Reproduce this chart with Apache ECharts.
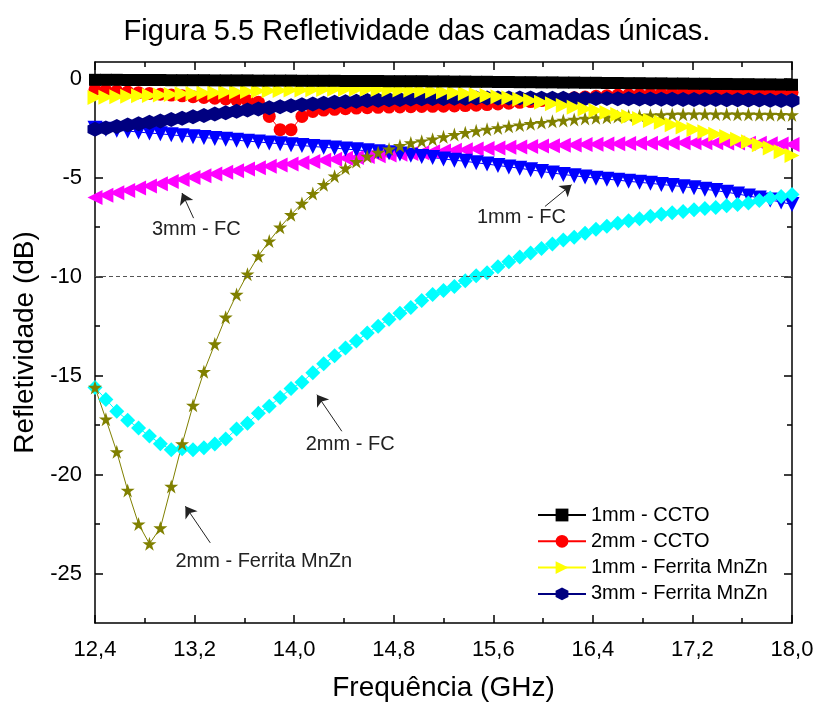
<!DOCTYPE html>
<html>
<head>
<meta charset="utf-8">
<title>Refletividade das camadas únicas</title>
<script src="https://cdn.jsdelivr.net/npm/echarts@6.0.0/dist/echarts.min.js"></script>
<style>
  html, body { margin: 0; padding: 0; background: #fff; }
  #chart { width: 818px; height: 704px; }
</style>
</head>
<body>
<div id="chart"></div>
<script>
// Frequency grid (GHz)
const freq = [12.4, 12.4875, 12.575, 12.6625, 12.75, 12.8375, 12.925, 13.0125, 13.1, 13.1875,
  13.275, 13.3625, 13.45, 13.5375, 13.625, 13.7125, 13.8, 13.8875, 13.975, 14.0625,
  14.15, 14.2375, 14.325, 14.4125, 14.5, 14.5875, 14.675, 14.7625, 14.85, 14.9375,
  15.025, 15.1125, 15.2, 15.2875, 15.375, 15.4625, 15.55, 15.6375, 15.725, 15.8125,
  15.9, 15.9875, 16.075, 16.1625, 16.25, 16.3375, 16.425, 16.5125, 16.6, 16.6875,
  16.775, 16.8625, 16.95, 17.0375, 17.125, 17.2125, 17.3, 17.3875, 17.475, 17.5625,
  17.65, 17.7375, 17.825, 17.9125, 18.0];

// Reflectivity (dB) for each layer
const ccto1mm = [-0.05, -0.05, -0.05, -0.06, -0.06, -0.06, -0.06, -0.07, -0.07, -0.07,
  -0.07, -0.08, -0.08, -0.08, -0.08, -0.09, -0.09, -0.09, -0.09, -0.10,
  -0.10, -0.10, -0.10, -0.11, -0.11, -0.11, -0.11, -0.12, -0.12, -0.12,
  -0.12, -0.13, -0.13, -0.14, -0.14, -0.15, -0.15, -0.16, -0.16, -0.17,
  -0.17, -0.18, -0.18, -0.19, -0.19, -0.20, -0.20, -0.21, -0.21, -0.22,
  -0.22, -0.23, -0.23, -0.24, -0.24, -0.25, -0.25, -0.26, -0.26, -0.27,
  -0.27, -0.28, -0.28, -0.29, -0.30];

const ccto2mm = [-0.55, -0.58, -0.62, -0.66, -0.70, -0.74, -0.78, -0.82, -0.86, -0.90,
  -0.94, -0.98, -1.02, -1.06, -1.10, -1.18, -1.90, -2.57, -2.57, -1.90,
  -1.65, -1.58, -1.54, -1.51, -1.48, -1.46, -1.44, -1.43, -1.42, -1.41,
  -1.40, -1.39, -1.38, -1.37, -1.35, -1.33, -1.30, -1.27, -1.23, -1.19,
  -1.15, -1.10, -1.05, -1.00, -0.96, -0.92, -0.88, -0.85, -0.82, -0.80,
  -0.78, -0.77, -0.76, -0.75, -0.74, -0.73, -0.72, -0.72, -0.71, -0.71,
  -0.70, -0.70, -0.70, -0.69, -0.69];

const ferrita1mm = [-0.95, -0.93, -0.90, -0.88, -0.86, -0.84, -0.82, -0.79, -0.76, -0.74,
  -0.72, -0.70, -0.68, -0.66, -0.64, -0.62, -0.60, -0.59, -0.57, -0.56,
  -0.55, -0.54, -0.53, -0.53, -0.53, -0.53, -0.54, -0.55, -0.56, -0.58,
  -0.60, -0.63, -0.66, -0.70, -0.74, -0.79, -0.84, -0.90, -0.96, -1.03,
  -1.10, -1.18, -1.26, -1.35, -1.44, -1.52, -1.60, -1.70, -1.80, -1.90,
  -2.00, -2.10, -2.20, -2.32, -2.44, -2.56, -2.68, -2.80, -2.92, -3.05,
  -3.18, -3.33, -3.50, -3.68, -3.88];

const ferrita3mm = [-2.55, -2.48, -2.41, -2.34, -2.27, -2.20, -2.13, -2.06, -1.99, -1.92,
  -1.85, -1.78, -1.71, -1.64, -1.58, -1.52, -1.46, -1.41, -1.36, -1.31,
  -1.27, -1.23, -1.19, -1.16, -1.13, -1.10, -1.08, -1.06, -1.04, -1.02,
  -1.01, -1.00, -0.99, -0.98, -0.98, -0.97, -0.97, -0.97, -0.97, -0.97,
  -0.97, -0.98, -0.98, -0.98, -0.99, -0.99, -1.00, -1.00, -1.01, -1.01,
  -1.02, -1.02, -1.03, -1.03, -1.04, -1.04, -1.05, -1.05, -1.06, -1.06,
  -1.07, -1.07, -1.08, -1.09, -1.10];

const fc1mm = [-2.50, -2.55, -2.60, -2.64, -2.69, -2.74, -2.78, -2.83, -2.88, -2.93,
  -2.97, -3.01, -3.06, -3.10, -3.15, -3.19, -3.24, -3.28, -3.33, -3.37,
  -3.42, -3.46, -3.50, -3.55, -3.59, -3.64, -3.69, -3.74, -3.80, -3.86,
  -3.92, -3.98, -4.05, -4.11, -4.17, -4.24, -4.31, -4.38, -4.45, -4.52,
  -4.60, -4.68, -4.76, -4.83, -4.90, -4.96, -5.02, -5.07, -5.12, -5.18,
  -5.23, -5.28, -5.34, -5.39, -5.45, -5.51, -5.58, -5.65, -5.73, -5.82,
  -5.92, -6.02, -6.12, -6.23, -6.35];

const fc3mm = [-6.00, -5.88, -5.76, -5.64, -5.52, -5.41, -5.30, -5.19, -5.09, -4.99,
  -4.90, -4.81, -4.72, -4.64, -4.56, -4.49, -4.42, -4.36, -4.30, -4.24,
  -4.18, -4.12, -4.07, -4.02, -3.97, -3.93, -3.89, -3.85, -3.81, -3.77,
  -3.73, -3.69, -3.65, -3.61, -3.58, -3.55, -3.52, -3.49, -3.46, -3.44,
  -3.42, -3.40, -3.38, -3.36, -3.34, -3.32, -3.31, -3.29, -3.28, -3.27,
  -3.26, -3.25, -3.24, -3.24, -3.23, -3.23, -3.23, -3.23, -3.24, -3.24,
  -3.25, -3.26, -3.28, -3.30, -3.32];

const ferrita2mm = [-15.6, -17.2, -18.85, -20.8, -22.5, -23.5, -22.7, -20.6, -18.45, -16.5,
  -14.8, -13.4, -12.05, -10.9, -9.87, -8.95, -8.2, -7.5, -6.87, -6.3,
  -5.8, -5.35, -4.92, -4.52, -4.18, -3.92, -3.72, -3.55, -3.38, -3.24,
  -3.15, -3.05, -2.93, -2.82, -2.72, -2.63, -2.55, -2.48, -2.40, -2.34,
  -2.27, -2.21, -2.15, -2.10, -2.05, -2.00, -1.97, -1.94, -1.91, -1.88,
  -1.86, -1.84, -1.82, -1.80, -1.79, -1.78, -1.78, -1.78, -1.78, -1.79,
  -1.79, -1.80, -1.80, -1.81, -1.82];

const fc2mm = [-15.6, -16.2, -16.8, -17.25, -17.65, -18.05, -18.44, -18.75, -18.7, -18.75,
  -18.65, -18.45, -18.2, -17.7, -17.4, -16.9, -16.55, -16.1, -15.65, -15.33,
  -14.85, -14.4, -14.0, -13.6, -13.25, -12.85, -12.5, -12.15, -11.85, -11.55,
  -11.2, -10.9, -10.7, -10.5, -10.2, -9.95, -9.8, -9.5, -9.25, -9.0,
  -8.8, -8.58, -8.35, -8.15, -8.0, -7.8, -7.6, -7.45, -7.3, -7.17,
  -7.07, -6.95, -6.85, -6.77, -6.7, -6.62, -6.55, -6.5, -6.42, -6.35,
  -6.27, -6.15, -6.02, -5.95, -5.85];

// Axis ticks
const xTicks = [12.4, 13.2, 14.0, 14.8, 15.6, 16.4, 17.2, 18.0];
const xMinorTicks = [12.8, 13.6, 14.4, 15.2, 16.0, 16.8, 17.6];
const yTicks = [0, -5, -10, -15, -20, -25];
const yMinorTicks = [-2.5, -7.5, -12.5, -17.5, -22.5];
const xRange = [12.4, 18.0];
const yRange = [-27.5, 0.85];
const absorptionLimit = -10;

// Legend entries (the FC layers and 2 mm ferrite are labelled with arrows)
const legendNames = ['1mm - CCTO', '2mm - CCTO', '1mm - Ferrita MnZn', '3mm - Ferrita MnZn'];

// Arrow notes: text, text anchor, arrow tail, arrow head (data units)
const notes = [
  { text: '3mm - FC', at: [13.214, -7.63], from: [13.192, -7.04], to: [13.099, -5.77] },
  { text: '1mm - FC', at: [15.826, -7.02], from: [16.015, -6.45], to: [16.229, -5.35] },
  { text: '2mm - FC', at: [14.45, -18.48], from: [14.383, -17.81], to: [14.183, -15.96] },
  { text: '2mm - Ferrita MnZn', at: [13.756, -24.39], from: [13.326, -23.45], to: [13.126, -21.6] }
];

const FONT = 'Liberation Sans, Arial, sans-serif';

const hexagon = 'path://M0,-1 L0.866,-0.5 L0.866,0.5 L0,1 L-0.866,0.5 L-0.866,-0.5 Z';
const star = 'path://M0,-1 L0.2245,-0.309 L0.951,-0.309 L0.363,0.118 L0.588,0.809 L0,0.382 L-0.588,0.809 L-0.363,0.118 L-0.951,-0.309 L-0.2245,-0.309 Z';

function layer(name, values, color, symbol, size, rotate) {
  return {
    name: name,
    type: 'line',
    xAxisIndex: 0,
    yAxisIndex: 0,
    data: freq.map((f, i) => [f, values[i]]),
    symbol: symbol,
    symbolSize: size,
    symbolRotate: rotate || 0,
    showAllSymbol: true,
    itemStyle: { color: color, borderWidth: 0 },
    lineStyle: { color: color, width: 1 },
    emphasis: { disabled: true }
  };
}

const axisLineStyle = { color: '#000', width: 1.5 };

function xAxisDef(pos, gridIndex, ticks, len, labels) {
  return {
    type: 'value', gridIndex: gridIndex, position: pos,
    min: xRange[0], max: xRange[1],
    axisLine: { show: gridIndex === 0, onZero: false, lineStyle: axisLineStyle },
    axisTick: { show: true, inside: true, length: len, customValues: ticks, lineStyle: { color: '#000', width: 1.5 } },
    axisLabel: labels ? {
      show: true, customValues: ticks, margin: 16,
      formatter: v => v.toFixed(1).replace('.', ','),
      color: '#000', fontSize: 22, fontFamily: FONT
    } : { show: false },
    splitLine: { show: false },
    name: labels ? 'Frequência (GHz)' : '',
    nameLocation: 'middle', nameGap: 51,
    nameTextStyle: { color: '#000', fontSize: 28, fontFamily: FONT }
  };
}

function yAxisDef(pos, gridIndex, ticks, len, labels) {
  return {
    type: 'value', gridIndex: gridIndex, position: pos,
    min: yRange[0], max: yRange[1],
    axisLine: { show: gridIndex === 0, onZero: false, lineStyle: axisLineStyle },
    axisTick: { show: true, inside: true, length: len, customValues: ticks, lineStyle: { color: '#000', width: 1.5 } },
    axisLabel: labels ? {
      show: true, customValues: ticks, margin: 13,
      formatter: v => String(v),
      color: '#000', fontSize: 22, fontFamily: FONT
    } : { show: false },
    splitLine: { show: false },
    name: labels ? 'Refletividade (dB)' : '',
    nameLocation: 'middle', nameGap: 52,
    nameTextStyle: { color: '#000', fontSize: 28, fontFamily: FONT }
  };
}

const gridRect = { left: 95, right: 26, top: 62, bottom: 81, outerBoundsMode: 'none', containLabel: false };

const option = {
  animation: false,
  backgroundColor: '#fff',
  textStyle: { fontFamily: FONT },
  graphic: [{
    type: 'text', x: 417, y: 17,
    style: { text: 'Figura 5.5 Refletividade das camadas únicas.', fill: '#000', font: '29px ' + FONT, align: 'center' }
  }],
  grid: [Object.assign({}, gridRect), Object.assign({}, gridRect)],
  xAxis: [
    xAxisDef('bottom', 0, xTicks, 8, true),
    xAxisDef('top', 0, xTicks, 8, false),
    xAxisDef('bottom', 1, xMinorTicks, 5, false),
    xAxisDef('top', 1, xMinorTicks, 5, false)
  ],
  yAxis: [
    yAxisDef('left', 0, yTicks, 8, true),
    yAxisDef('right', 0, yTicks, 8, false),
    yAxisDef('left', 1, yMinorTicks, 5, false),
    yAxisDef('right', 1, yMinorTicks, 5, false)
  ],
  legend: {
    data: legendNames,
    orient: 'vertical',
    left: 537, top: 505,
    itemWidth: 48, itemHeight: 16, itemGap: 6.3,
    padding: 0,
    textStyle: { color: '#000', fontSize: 20, fontFamily: FONT },
    selectedMode: false
  },
  series: [
    {
      name: 'limit', type: 'line', data: [], xAxisIndex: 0, yAxisIndex: 0,
      markLine: {
        silent: true, symbol: 'none', animation: false,
        label: { show: false },
        lineStyle: { color: '#555', width: 1, type: [4, 3] },
        data: [{ yAxis: absorptionLimit }]
      }
    },
    layer('3mm - FC', fc3mm, '#FF00FF', 'triangle', 15, 90),
    layer('1mm - FC', fc1mm, '#0000FF', 'triangle', 15, 180),
    layer('2mm - FC', fc2mm, '#00FFFF', 'diamond', 15, 0),
    layer('2mm - Ferrita MnZn', ferrita2mm, '#808000', star, 14, 0),
    layer('2mm - CCTO', ccto2mm, '#FF0000', 'circle', 13, 0),
    layer('3mm - Ferrita MnZn', ferrita3mm, '#000080', hexagon, 15, 0),
    layer('1mm - Ferrita MnZn', ferrita1mm, '#FFFF00', 'triangle', 15, -90),
    layer('1mm - CCTO', ccto1mm, '#000000', 'rect', 12, 0),
    {
      name: 'notes', type: 'line', data: [], xAxisIndex: 0, yAxisIndex: 0, z: 5,
      markLine: {
        silent: true, animation: false,
        symbol: ['none', 'arrow'], symbolSize: 11,
        label: { show: false },
        lineStyle: { color: '#222', width: 1, type: 'solid' },
        data: notes.map(n => [{ coord: n.from }, { coord: n.to }])
      },
      markPoint: {
        silent: true, animation: false,
        symbol: 'rect', symbolSize: 1,
        itemStyle: { color: 'rgba(0,0,0,0)' },
        label: {
          show: true, position: 'inside', formatter: p => p.name,
          color: '#222', fontSize: 20, fontFamily: FONT
        },
        data: notes.map(n => ({ name: n.text, coord: n.at }))
      }
    }
  ]
};

const chart = echarts.init(document.getElementById('chart'), null, { renderer: 'canvas', width: 818, height: 704 });
chart.setOption(option);
</script>
</body>
</html>
